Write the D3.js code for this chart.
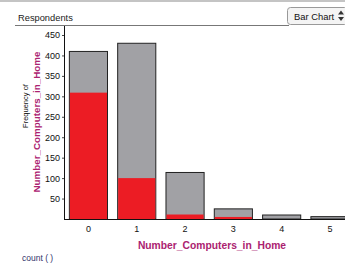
<!DOCTYPE html>
<html>
<head>
<meta charset="utf-8">
<script src="https://cdn.jsdelivr.net/npm/d3@7"></script>
<style>
  body { margin: 0; background: #fff; }
  svg { display: block; font-family: "Liberation Sans", Arial, sans-serif; }
</style>
</head>
<body>
<svg id="chart" width="345" height="265"></svg>
<script>
var categories = ["0", "1", "2", "3", "4", "5"];
var totalCounts = [411, 431, 115, 26, 11, 7];
var selectedCounts = [309, 100, 11, 5, 0, 0];
var yTicks = [50, 100, 150, 200, 250, 300, 350, 400, 450];

var svg = d3.select("#chart");
var plotLeft = 65, plotBottom = 219, plotTop = 35;

// header strip
svg.append("rect").attr("x", 0).attr("y", 0).attr("width", 345).attr("height", 2).attr("fill", "#c4c4c4");
svg.append("text").attr("x", 18).attr("y", 21).attr("font-size", 9.3).attr("fill", "#222").text("Respondents");
svg.append("line").attr("x1", 15).attr("x2", 289).attr("y1", 25.5).attr("y2", 25.5).attr("stroke", "#777");

// bar chart button
svg.append("rect").attr("x", 287.5).attr("y", 7.5).attr("width", 60).attr("height", 17).attr("rx", 3)
  .attr("fill", "#f4f4f4").attr("stroke", "#999");
svg.append("text").attr("x", 294).attr("y", 19.5).attr("font-size", 9.4).attr("fill", "#111").text("Bar Chart");
svg.append("path").attr("d", "M338,14.5 L341,10.5 L344,14.5 Z M338,17 L341,21 L344,17 Z").attr("fill", "#333");

var x = d3.scaleBand().domain(categories).range([plotLeft, 353.4]).paddingInner(0.19).paddingOuter(0.08);
var y = d3.scaleLinear().domain([0, 450]).range([plotBottom, plotTop]);

var rows = categories.map(function(c, i) { return { cat: c, total: totalCounts[i], sel: selectedCounts[i] }; });

svg.selectAll(".total").data(rows).enter().append("rect")
  .attr("class", "total")
  .attr("x", function(d) { return x(d.cat) + 0.5; })
  .attr("y", function(d) { return y(d.total) + 0.5; })
  .attr("width", x.bandwidth() - 1)
  .attr("height", function(d) { return plotBottom - y(d.total) - 0.5; })
  .attr("fill", "#a1a1a5")
  .attr("stroke", "#222")
  .attr("stroke-width", 1);

svg.selectAll(".sel").data(rows.filter(function(d) { return d.sel > 0; })).enter().append("rect")
  .attr("class", "sel")
  .attr("x", function(d) { return x(d.cat) + 1; })
  .attr("y", function(d) { return y(d.sel); })
  .attr("width", x.bandwidth() - 2)
  .attr("height", function(d) { return plotBottom - y(d.sel); })
  .attr("fill", "#ec1c24");

// y axis
var yAxis = svg.append("g").attr("transform", "translate(" + plotLeft + ",0)")
  .call(d3.axisLeft(y).tickValues(yTicks).tickSize(3).tickPadding(2));
yAxis.select(".domain").remove();
yAxis.selectAll(".tick line").attr("stroke", "#444");
yAxis.selectAll("text").attr("font-size", 9).attr("fill", "#111").attr("font-family", "Liberation Sans, Arial, sans-serif");
svg.append("line").attr("x1", plotLeft - 0.5).attr("x2", plotLeft - 0.5).attr("y1", 26).attr("y2", plotBottom + 1).attr("stroke", "#111");

// x axis
var xAxis = svg.append("g").attr("transform", "translate(0," + plotBottom + ")")
  .call(d3.axisBottom(x).tickSize(0).tickPadding(7));
xAxis.select(".domain").remove();
xAxis.selectAll("text").attr("font-size", 9).attr("fill", "#111").attr("font-family", "Liberation Sans, Arial, sans-serif");
svg.append("line").attr("x1", plotLeft - 1).attr("x2", 345).attr("y1", plotBottom + 0.5).attr("y2", plotBottom + 0.5).attr("stroke", "#111");

// axis titles
svg.append("text").attr("x", 212).attr("y", 249).attr("text-anchor", "middle")
  .attr("font-size", 10.3).attr("font-weight", "bold").attr("fill", "#ab2270")
  .text("Number_Computers_in_Home");
svg.append("text").attr("transform", "translate(28,106) rotate(-90)").attr("text-anchor", "middle")
  .attr("font-size", 7.5).attr("fill", "#111").text("Frequency of");
svg.append("text").attr("transform", "translate(40,122) rotate(-90)").attr("text-anchor", "middle")
  .attr("font-size", 9.8).attr("font-weight", "bold").attr("fill", "#ab2270")
  .text("Number_Computers_in_Home");

svg.append("text").attr("x", 22).attr("y", 261).attr("font-size", 8.5).attr("fill", "#33336b").text("count (  )");
</script>
</body>
</html>
